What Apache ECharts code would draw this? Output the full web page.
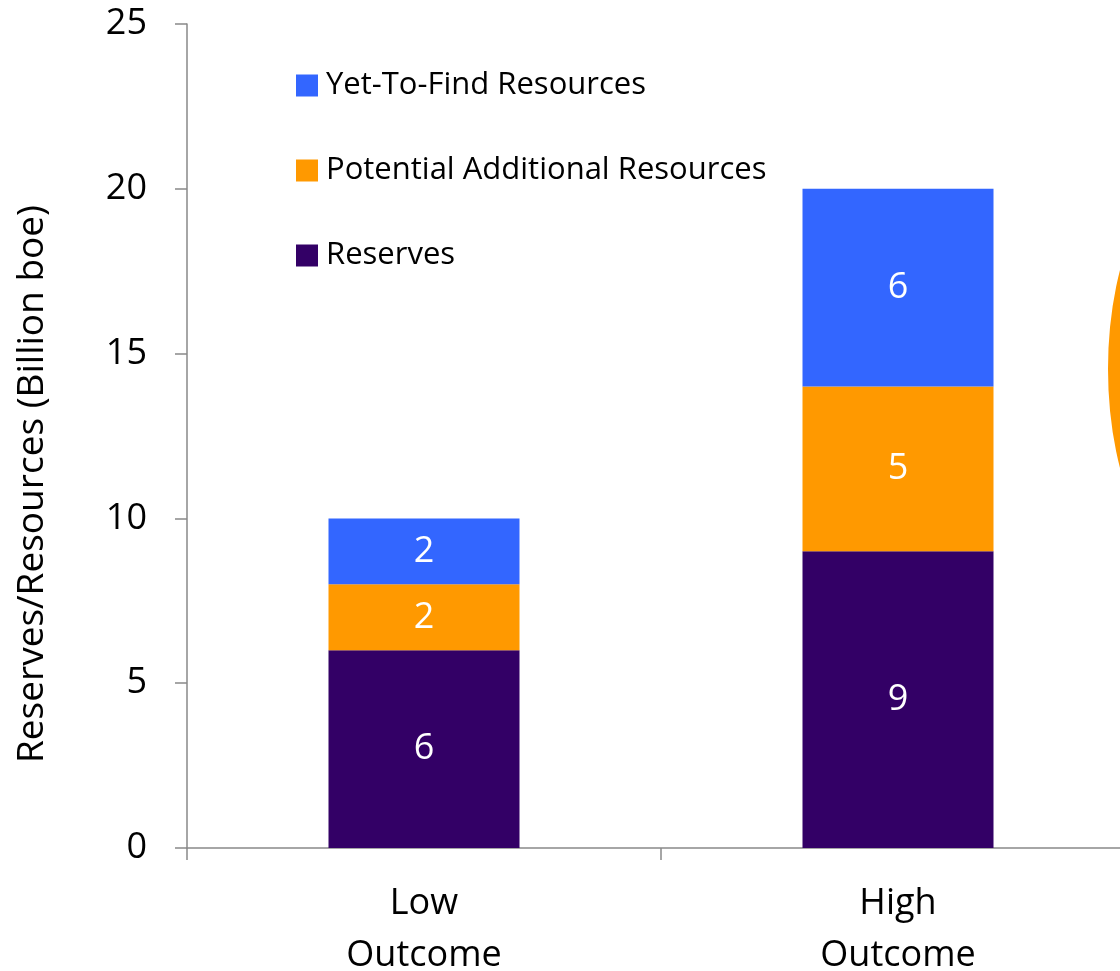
<!DOCTYPE html>
<html>
<head>
<meta charset="utf-8">
<script src="https://cdn.jsdelivr.net/npm/echarts@6/dist/echarts.min.js"></script>
<style>
html,body{margin:0;padding:0;background:#fff;}
#chart{width:1120px;height:971px;}
</style>
</head>
<body>
<div id="chart"></div>
<script>
var categories = ['Low\nOutcome', 'High\nOutcome'];
var reserves = [6, 9];
var potentialAdditional = [2, 5];
var yetToFind = [2, 6];
var yTicks = { min: 0, max: 25, interval: 5 };
var seriesNames = ['Yet-To-Find Resources', 'Potential Additional Resources', 'Reserves'];
var colors = { ytf: '#3366FF', par: '#FF9900', res: '#330066' };

var FONT = '"Open Sans", sans-serif';
var chart = echarts.init(document.getElementById('chart'));

function barSeries(name, data, color) {
  return {
    name: name,
    type: 'bar',
    stack: 'total',
    data: data,
    barWidth: 191,
    itemStyle: { color: color, borderWidth: 0 },
    label: {
      show: true,
      position: 'inside',
      color: '#fff',
      fontFamily: FONT,
      fontSize: 36,
      textBorderWidth: 0
    },
    emphasis: { disabled: true }
  };
}

chart.setOption({
  animation: false,
  backgroundColor: '#fff',
  grid: { left: 187, top: 24, width: 948, bottom: 123, containLabel: false, outerBoundsMode: 'none' },
  legend: {
    orient: 'vertical',
    left: 296,
    top: 70,
    padding: 0,
    data: seriesNames,
    icon: 'rect',
    itemWidth: 22,
    itemHeight: 22,
    itemGap: 54,
    textStyle: { fontFamily: FONT, fontSize: 31, color: '#000', lineHeight: 30, padding: [0, 0, 0, 3] },
    selectedMode: false
  },
  xAxis: {
    type: 'category',
    data: categories,
    boundaryGap: true,
    axisLine: { show: true, lineStyle: { color: '#898989', width: 1.5 } },
    axisTick: { show: true, inside: false, length: 12, alignWithLabel: false, lineStyle: { color: '#898989', width: 1.5 } },
    axisLabel: { fontFamily: FONT, fontSize: 36, color: '#000', lineHeight: 52, margin: 30, interval: 0 },
    splitLine: { show: false }
  },
  yAxis: {
    type: 'value',
    min: yTicks.min,
    max: yTicks.max,
    interval: yTicks.interval,
    name: 'Reserves/Resources (Billion boe)',
    nameLocation: 'middle',
    nameGap: 136,
    nameRotate: 90,
    nameTextStyle: { fontFamily: FONT, fontSize: 37, color: '#000', padding: [0, 96, 0, 0] },
    axisLine: { show: true, lineStyle: { color: '#898989', width: 1.5 } },
    axisTick: { show: true, inside: false, length: 12, lineStyle: { color: '#898989', width: 1.5 } },
    axisLabel: { fontFamily: FONT, fontSize: 36, color: '#000', margin: 40 },
    splitLine: { show: false }
  },
  graphic: [{
    type: 'ellipse',
    silent: true,
    z: 100,
    shape: { cx: 1223, cy: 369, rx: 100, ry: 204 },
    style: { fill: 'none', stroke: '#FF9900', lineWidth: 30 }
  }],
  series: [
    barSeries('Reserves', reserves, colors.res),
    barSeries('Potential Additional Resources', potentialAdditional, colors.par),
    barSeries('Yet-To-Find Resources', yetToFind, colors.ytf)
  ]
});
</script>
</body>
</html>
